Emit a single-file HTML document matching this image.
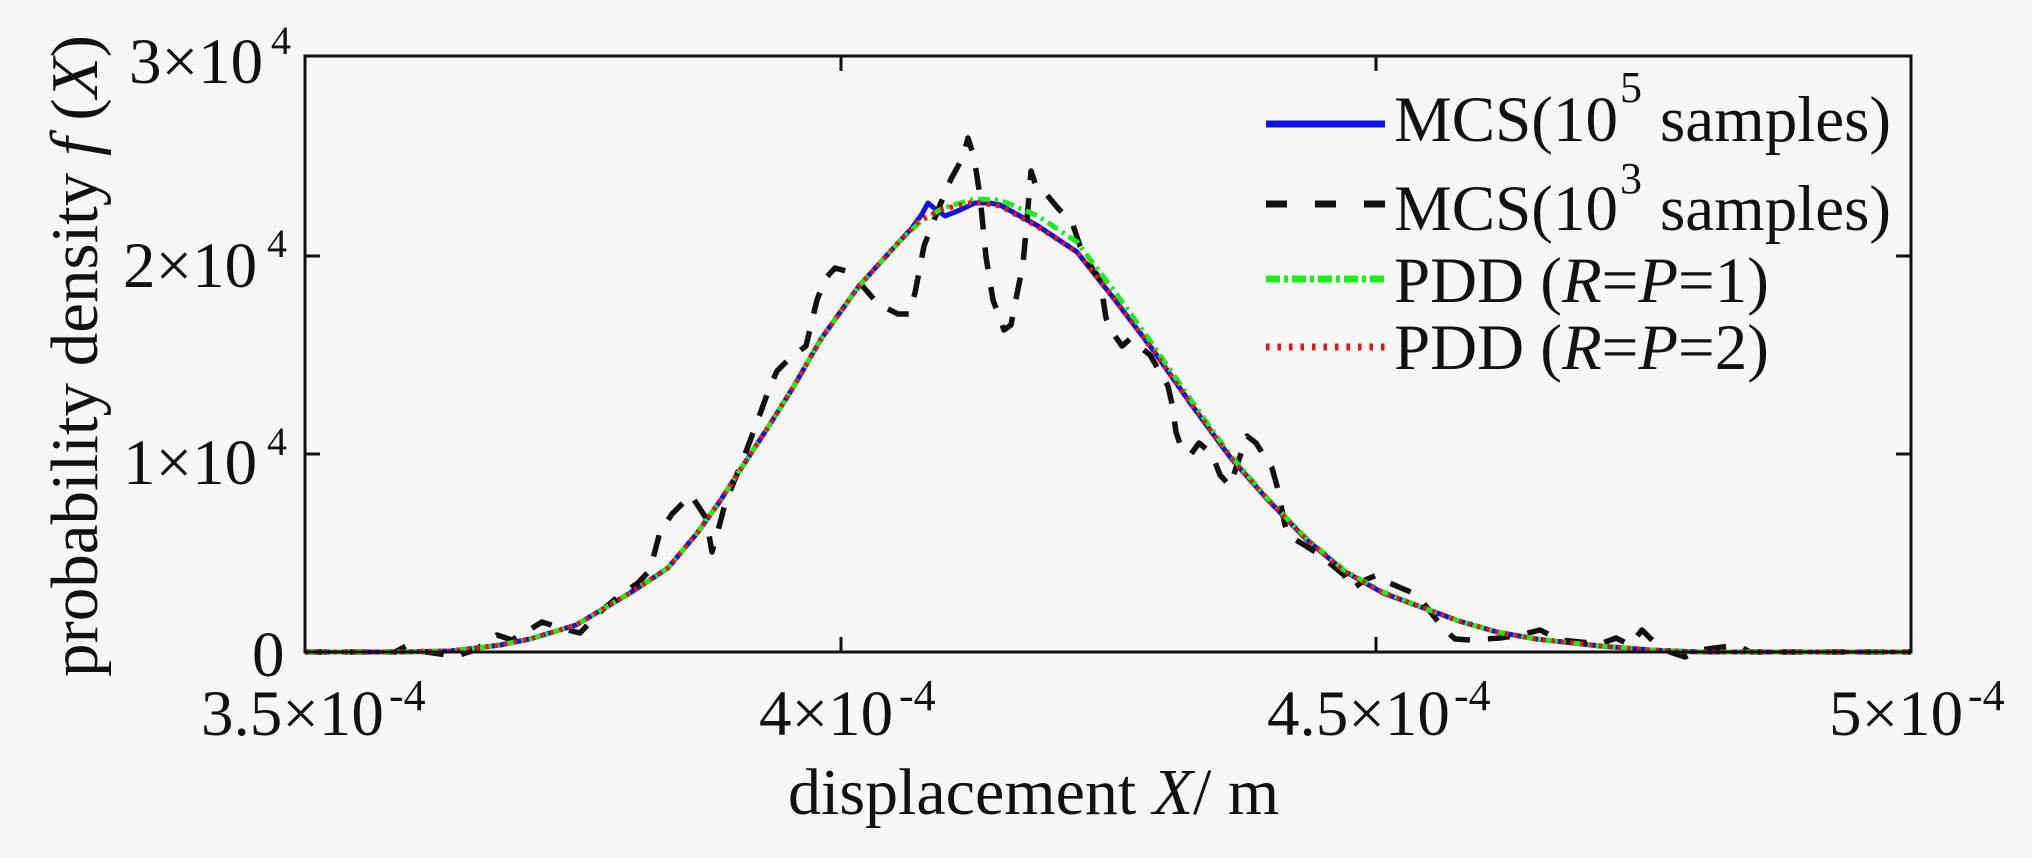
<!DOCTYPE html>
<html><head><meta charset="utf-8"><style>
html,body{margin:0;padding:0;background:#f7f7f7;}
svg{display:block;}
text{font-family:"Liberation Serif","Times New Roman",serif;fill:#111;}
</style></head><body>
<svg width="2032" height="858" viewBox="0 0 2032 858" xmlns="http://www.w3.org/2000/svg">
<rect x="0" y="0" width="2032" height="858" fill="#f7f7f7"/>

<!-- curves -->
<g fill="none" stroke-linejoin="round">
<polyline stroke="#1010e0" stroke-width="5" points="305,652 400,652 450,651 477,648 500,645 530,639 576,625 630,593 668,568 698,532 718,504 744,464 767,429 794,386 821,339 859,286 898,243 912,228 922,214 928,203 934,208 945,216 960,210 975,203 990,203 1000,205 1038,226 1077,252 1115,300 1153,350 1191,404 1230,457 1268,500 1306,539 1344,571 1383,593 1421,607 1459,621 1497,632 1536,639 1600,646 1650,650 1700,652 1911,652"/>
<polyline stroke="#111" stroke-width="5.5" stroke-dasharray="22 18" points="305,652 395,652 408,645 420,651 440,654 456,656 475,650 497,635 512,640 529,630 542,622 560,628 580,633 600,612 620,595 638,583 650,570 660,532 672,514 691,495 706,518 712,552 720,523 725,504 735,479 744,457 760,414 769,389 777,371 790,358 806,346 811,325 817,300 825,279 835,268 846,271 859,282 878,304 898,314 909,314 915,293 924,246 940,205 951,179 963,157 968,138 974,157 980,196 986,257 993,300 1004,330 1011,325 1015,304 1023,264 1027,220 1031,171 1036,186 1042,189 1057,207 1073,225 1080,246 1092,268 1100,279 1106,318 1115,336 1122,346 1130,339 1150,355 1168,386 1172,404 1176,432 1182,450 1191,454 1199,443 1212,454 1220,475 1230,486 1235,471 1247,436 1256,443 1272,468 1277,486 1285,525 1289,536 1306,546 1320,555 1344,575 1352,589 1365,580 1377,575 1387,582 1413,593 1421,600 1444,629 1455,639 1470,640 1500,638 1520,635 1540,630 1560,640 1600,644 1616,638 1630,645 1642,630 1655,643 1670,652 1685,657 1700,650 1737,645 1750,652 1911,652"/>
<polyline stroke="#18f018" stroke-width="5" stroke-dasharray="12 5 3 5" points="305,652 400,652 450,651 477,648 500,645 530,639 576,625 630,593 668,568 698,532 718,504 744,464 767,429 794,386 821,339 859,286 898,243 920,222 943,208 974,199 1000,200 1038,216 1077,242 1115,292 1153,345 1191,400 1230,455 1268,499 1306,538 1344,570 1383,592 1421,607 1459,621 1497,632 1536,639 1600,646 1650,650 1700,652 1911,652"/>
<polyline stroke="#f01010" stroke-width="5" stroke-dasharray="3.5 6" points="305,652 400,652 450,651 477,648 500,645 530,639 576,625 630,593 668,568 698,532 718,504 744,464 767,429 794,386 821,339 859,286 898,243 920,220 943,209 974,202 1000,206 1038,227 1077,252 1115,300 1153,350 1191,404 1230,457 1268,500 1306,539 1344,571 1383,593 1421,607 1459,621 1497,632 1536,639 1600,646 1650,650 1700,652 1911,652"/>
</g>

<!-- axes box -->
<rect x="305" y="56" width="1606" height="596" fill="none" stroke="#111" stroke-width="3"/>
<g stroke="#111" stroke-width="3">
<line x1="841" y1="652" x2="841" y2="637"/>
<line x1="1376" y1="652" x2="1376" y2="637"/>
<line x1="841" y1="56" x2="841" y2="71"/>
<line x1="1376" y1="56" x2="1376" y2="71"/>
<line x1="305" y1="454" x2="320" y2="454"/>
<line x1="305" y1="256" x2="320" y2="256"/>
<line x1="1911" y1="454" x2="1896" y2="454"/>
<line x1="1911" y1="256" x2="1896" y2="256"/>
</g>

<!-- y tick labels -->
<text x="129" y="83" font-size="65">3×10</text><text x="271" y="54" font-size="40">4</text>
<text x="123" y="287" font-size="65">2×10</text><text x="267" y="257" font-size="40">4</text>
<text x="123" y="484" font-size="65">1×10</text><text x="267" y="455" font-size="40">4</text>
<text x="252" y="676" font-size="65">0</text>

<!-- x tick labels -->
<text x="201" y="735" font-size="65">3.5×10</text><text x="389" y="710" font-size="44">-4</text>
<text x="759" y="735" font-size="65">4×10</text><text x="899" y="710" font-size="44">-4</text>
<text x="1267" y="735" font-size="65">4.5×10</text><text x="1454" y="710" font-size="44">-4</text>
<text x="1829" y="735" font-size="65">5×10</text><text x="1968" y="710" font-size="44">-4</text>

<!-- axis labels -->
<text x="788" y="814" font-size="66">displacement <tspan font-style="italic">X</tspan>/ m</text>
<text transform="translate(97,356) rotate(-90)" text-anchor="middle" font-size="67">probability density <tspan font-style="italic">f</tspan> (<tspan font-style="italic">X</tspan>)</text>

<!-- legend -->
<line x1="1266" y1="124" x2="1385" y2="124" stroke="#1010e0" stroke-width="7"/>
<line x1="1266" y1="204" x2="1385" y2="204" stroke="#111" stroke-width="7" stroke-dasharray="21 28"/>
<line x1="1266" y1="279" x2="1385" y2="279" stroke="#18f018" stroke-width="7" stroke-dasharray="14 4 4 4"/>
<line x1="1266" y1="347" x2="1385" y2="347" stroke="#f01010" stroke-width="7" stroke-dasharray="3.5 8"/>

<text x="1394" y="141" font-size="65">MCS(10</text><text x="1620" y="102" font-size="44">5</text><text x="1660" y="141" font-size="65">samples)</text>
<text x="1394" y="230" font-size="65">MCS(10</text><text x="1620" y="193" font-size="44">3</text><text x="1660" y="230" font-size="65">samples)</text>
<text x="1394" y="302" font-size="65">PDD (<tspan font-style="italic">R</tspan>=<tspan font-style="italic">P</tspan>=1)</text>
<text x="1394" y="369" font-size="65">PDD (<tspan font-style="italic">R</tspan>=<tspan font-style="italic">P</tspan>=2)</text>
</svg>
</body></html>
